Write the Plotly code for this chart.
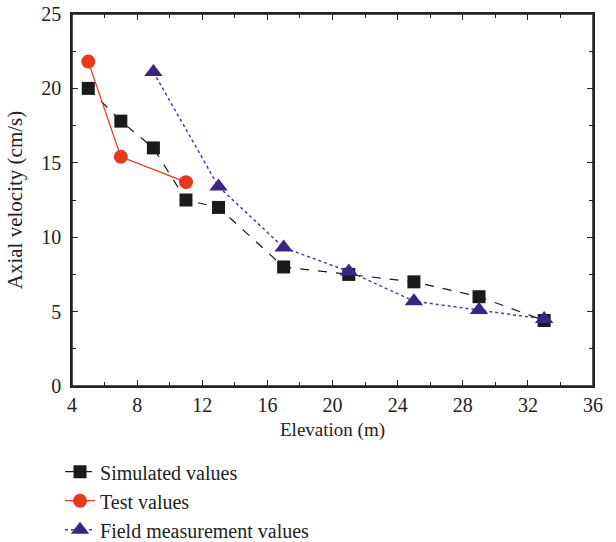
import plotly.graph_objects as go

sim_x = [5, 7, 9, 11, 13, 17, 21, 25, 29, 33]
sim_y = [20.0, 17.8, 16.0, 12.5, 12.0, 8.0, 7.5, 7.0, 6.0, 4.4]
test_x = [5, 7, 11]
test_y = [21.8, 15.4, 13.7]
field_x = [9, 13, 17, 21, 25, 29, 33]
field_y = [21.1, 13.4, 9.3, 7.7, 5.7, 5.1, 4.5]

x_ticks = [4, 8, 12, 16, 20, 24, 28, 32, 36]
y_ticks = [0, 5, 10, 15, 20, 25]

FONT = "Liberation Serif"
fig = go.Figure()
fig.add_trace(go.Scatter(x=sim_x, y=sim_y, mode="lines+markers", name="Simulated values",
                         line=dict(color="#1a1a1a", width=1.2, dash="dash"),
                         marker=dict(symbol="square", size=13, color="#1a1a1a")))
fig.add_trace(go.Scatter(x=test_x, y=test_y, mode="lines+markers", name="Test values",
                         line=dict(color="#e8391f", width=1.3),
                         marker=dict(symbol="circle", size=14, color="#e8391f")))
fig.add_trace(go.Scatter(x=field_x, y=field_y, mode="lines+markers", name="Field measurement values",
                         line=dict(color="#4a3aa8", width=1.5, dash="dot"),
                         marker=dict(symbol="triangle-up", size=16, color="#3a2585")))

axis_common = dict(showline=True, linecolor="#222", linewidth=1.5, mirror="ticks",
                   ticks="inside", ticklen=6, tickwidth=1, tickcolor="#222",
                   showgrid=False, zeroline=False, automargin=False,
                   tickfont=dict(family=FONT, size=20, color="#222"))
fig.update_xaxes(range=[4, 36], tickvals=x_ticks,
                 minor=dict(dtick=2, ticks="inside", ticklen=4, tickcolor="#222"),
                 title=dict(text="Elevation (m)", font=dict(family=FONT, size=19, color="#222"), standoff=8),
                 **axis_common)
fig.update_yaxes(range=[0, 25], tickvals=y_ticks, ticklabelstandoff=5,
                 minor=dict(dtick=2.5, ticks="inside", ticklen=4, tickcolor="#222"),
                 title=dict(text="Axial velocity (cm/s)", font=dict(family=FONT, size=21, color="#222"), standoff=13),
                 **axis_common)
# plot frame
fig.add_shape(type="rect", xref="paper", yref="paper", x0=0, x1=1, y0=0, y1=1,
              line=dict(color="#222", width=1.5), fillcolor="rgba(0,0,0,0)", layer="above")
fig.update_layout(
    width=616, height=570, plot_bgcolor="white", paper_bgcolor="white",
    margin=dict(l=72, r=23, t=14, b=184),
    legend=dict(x=-0.023, y=-0.178, xanchor="left", yanchor="top",
                font=dict(family=FONT, size=20, color="#222"),
                tracegroupgap=0, itemsizing="trace"),
    font=dict(family=FONT))
fig.write_html("out.html", config={"displayModeBar": False},
               post_script="document.body.style.margin='0';")
